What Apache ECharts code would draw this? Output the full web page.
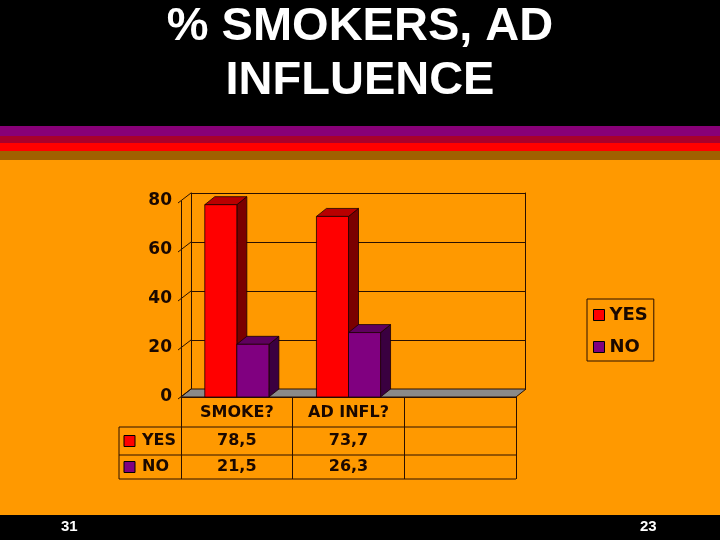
<!DOCTYPE html>
<html>
<head>
<meta charset="utf-8">
<script src="https://cdn.jsdelivr.net/npm/echarts@6/dist/echarts.min.js"></script>
<style>
  html, body { margin: 0; padding: 0; background: #ff9900; }
  #chart { width: 720px; height: 540px; }
</style>
</head>
<body>
<div id="chart"></div>
<script>
// chart data
const categories = ["SMOKE?", "AD INFL?", ""];
const seriesNames = ["YES", "NO"];
const yesValues = [78.5, 73.7];
const noValues = [21.5, 26.3];
const yTicks = [0, 20, 40, 60, 80];

document.addEventListener("DOMContentLoaded", function () {
  const chart = echarts.init(document.getElementById("chart"));

  // layout of the front plane and the 3D depth offset
  const GL = 181, GT = 201, GW = 335, GH = 196;
  const DX = 10, DY = -8;
  const bandW = GW / categories.length;
  const textColor = "#1a0800";
  const lineColor = "#2a1000";
  const font = "DejaVu Sans";

  const colors = {
    YES: { front: "#ff0000", side: "#7a0000", top: "#b80000" },
    NO: { front: "#800080", side: "#3a0040", top: "#5e005e" },
  };

  function bar3d(name, offsetSide) {
    return function (params, api) {
      const idx = api.value(0);
      const val = api.value(1);
      const base = api.coord([idx, 0]);
      const top = api.coord([idx, val]);
      const bw = api.size([1, 0])[0] * 0.287;
      const x0 = offsetSide < 0 ? base[0] - bw : base[0];
      const x1 = x0 + bw;
      const c = colors[name];
      const stroke = { stroke: "#1a0000", lineWidth: 0.8 };
      return {
        type: "group",
        children: [
          {
            type: "polygon",
            shape: { points: [[x1, top[1]], [x1 + DX, top[1] + DY], [x1 + DX, base[1] + DY], [x1, base[1]]] },
            style: Object.assign({ fill: c.side }, stroke),
          },
          {
            type: "polygon",
            shape: { points: [[x0, top[1]], [x0 + DX, top[1] + DY], [x1 + DX, top[1] + DY], [x1, top[1]]] },
            style: Object.assign({ fill: c.top }, stroke),
          },
          {
            type: "rect",
            shape: { x: x0, y: top[1], width: bw, height: base[1] - top[1] },
            style: Object.assign({ fill: c.front }, stroke),
          },
        ],
      };
    };
  }

  function fmt(v) {
    return v.toFixed(1).replace(".", ",");
  }

  // table below the plot
  const rowTop = [427, 455];
  const rowBottom = [455, 479];
  const tableLeft = 119;
  const tableRight = GL + GW;
  const graphics = [
    { type: "rect", z: -10, shape: { x: 0, y: 0, width: 720, height: 126 }, style: { fill: "#000" } },
    { type: "rect", z: -10, shape: { x: 0, y: 126, width: 720, height: 10 }, style: { fill: "#880077" } },
    { type: "rect", z: -10, shape: { x: 0, y: 136, width: 720, height: 7 }, style: { fill: "#a8002c" } },
    { type: "rect", z: -10, shape: { x: 0, y: 143, width: 720, height: 8 }, style: { fill: "#ff0000" } },
    { type: "rect", z: -10, shape: { x: 0, y: 151, width: 720, height: 9 }, style: { fill: "#a06000" } },
    { type: "rect", z: -10, shape: { x: 0, y: 515, width: 720, height: 25 }, style: { fill: "#000" } },
    { type: "text", left: 61, top: 519, style: { text: "31", fill: "#fff", font: "bold 15px Liberation Sans" } },
    { type: "text", left: 640, top: 519, style: { text: "23", fill: "#fff", font: "bold 15px Liberation Sans" } },
    { type: "line", shape: { x1: tableLeft, y1: 427, x2: tableRight, y2: 427 }, style: { stroke: lineColor, lineWidth: 1 } },
    { type: "line", shape: { x1: tableLeft, y1: 455, x2: tableRight, y2: 455 }, style: { stroke: lineColor, lineWidth: 1 } },
    { type: "line", shape: { x1: tableLeft, y1: 479, x2: tableRight, y2: 479 }, style: { stroke: lineColor, lineWidth: 1 } },
    { type: "line", shape: { x1: tableLeft, y1: 427, x2: tableLeft, y2: 479 }, style: { stroke: lineColor, lineWidth: 1 } },
  ];
  [yesValues, noValues].forEach(function (vals, r) {
    const name = seriesNames[r];
    const cy = (rowTop[r] + rowBottom[r]) / 2;
    graphics.push({
      type: "rect",
      shape: { x: 124, y: cy - 5.5, width: 11, height: 11 },
      style: { fill: colors[name].front, stroke: "#000", lineWidth: 1 },
    });
    graphics.push({
      type: "text",
      x: 142, y: cy,
      style: { text: name, fill: textColor, font: "bold 16px " + font, verticalAlign: "middle" },
    });
    vals.forEach(function (v, i) {
      graphics.push({
        type: "text",
        x: GL + bandW * (i + 0.5), y: cy,
        style: { text: fmt(v), fill: textColor, font: "bold 16px " + font, align: "center", verticalAlign: "middle" },
      });
    });
  });

  const option = {
    animation: false,
    backgroundColor: "#ff9900",
    title: {
      text: "% SMOKERS, AD\nINFLUENCE",
      left: "center",
      top: -5,
      textStyle: {
        color: "#ffffff",
        fontFamily: "Liberation Sans",
        fontWeight: "bold",
        fontSize: 47,
        lineHeight: 54,
      },
    },
    legend: {
      data: seriesNames,
      orient: "vertical",
      left: 587,
      top: 299,
      padding: [7, 6, 5, 6],
      itemGap: 14,
      itemWidth: 11,
      itemHeight: 11,
      icon: "rect",
      borderColor: lineColor,
      borderWidth: 1,
      itemStyle: { borderColor: "#000", borderWidth: 1 },
      textStyle: { color: textColor, fontFamily: font, fontWeight: "bold", fontSize: 18 },
    },
    grid: [
      { left: GL, top: GT, width: GW, height: GH },
      { left: GL + DX, top: GT + DY, width: GW - 1, height: GH },
    ],
    xAxis: [
      {
        gridIndex: 0,
        type: "category",
        data: categories,
        axisLine: { lineStyle: { color: lineColor } },
        axisTick: { show: true, interval: 0, length: 82, lineStyle: { color: lineColor } },
        axisLabel: { interval: 0, margin: 8, color: textColor, fontFamily: font, fontWeight: "bold", fontSize: 16 },
      },
      { gridIndex: 1, type: "category", data: categories, show: false },
    ],
    yAxis: [
      {
        gridIndex: 0,
        type: "value",
        min: 0,
        max: 80,
        interval: 20,
        axisLine: { show: true, lineStyle: { color: lineColor } },
        axisTick: { show: false },
        splitLine: { show: false },
        axisLabel: { margin: 9, color: textColor, fontFamily: font, fontWeight: "bold", fontSize: 17 },
      },
      {
        gridIndex: 1,
        type: "value",
        min: 0,
        max: 80,
        interval: 20,
        axisLine: { show: true, lineStyle: { color: lineColor } },
        axisTick: { show: false },
        axisLabel: { show: false },
        splitLine: { show: true, lineStyle: { color: lineColor, width: 1 } },
      },
      {
        gridIndex: 1,
        type: "value",
        position: "right",
        min: 0,
        max: 80,
        interval: 20,
        axisLine: { show: true, lineStyle: { color: lineColor } },
        axisTick: { show: false },
        axisLabel: { show: false },
        splitLine: { show: false },
      },
    ],
    graphic: graphics,
    series: [
      {
        // left wall ticks and floor
        name: "frame",
        type: "custom",
        xAxisIndex: 0,
        yAxisIndex: 0,
        z: 1,
        silent: true,
        data: yTicks.map(function (t) { return [0, t]; }),
        renderItem: function (params, api) {
          const cs = params.coordSys;
          const y = api.coord([0, api.value(1)])[1];
          const children = [
            {
              type: "line",
              shape: { x1: cs.x - 3, y1: y + 2, x2: cs.x + DX, y2: y + DY },
              style: { stroke: lineColor, lineWidth: 1 },
            },
          ];
          if (api.value(1) === 0) {
            const yb = cs.y + cs.height;
            children.unshift({
              type: "polygon",
              shape: {
                points: [[cs.x, yb], [cs.x + cs.width, yb], [cs.x + cs.width + DX, yb + DY], [cs.x + DX, yb + DY]],
              },
              style: { fill: "#8a8a8a", stroke: lineColor, lineWidth: 1 },
            });
          }
          return { type: "group", children: children };
        },
      },
      {
        name: "YES",
        type: "custom",
        xAxisIndex: 0,
        yAxisIndex: 0,
        z: 3,
        itemStyle: { color: colors.YES.front },
        data: yesValues.map(function (v, i) { return [i, v]; }),
        renderItem: bar3d("YES", -1),
      },
      {
        name: "NO",
        type: "custom",
        xAxisIndex: 0,
        yAxisIndex: 0,
        z: 4,
        itemStyle: { color: colors.NO.front },
        data: noValues.map(function (v, i) { return [i, v]; }),
        renderItem: bar3d("NO", 1),
      },
    ],
  };
  chart.setOption(option);

  window.addEventListener("resize", function () {
    chart.resize();
  });
});
</script>
</body>
</html>
